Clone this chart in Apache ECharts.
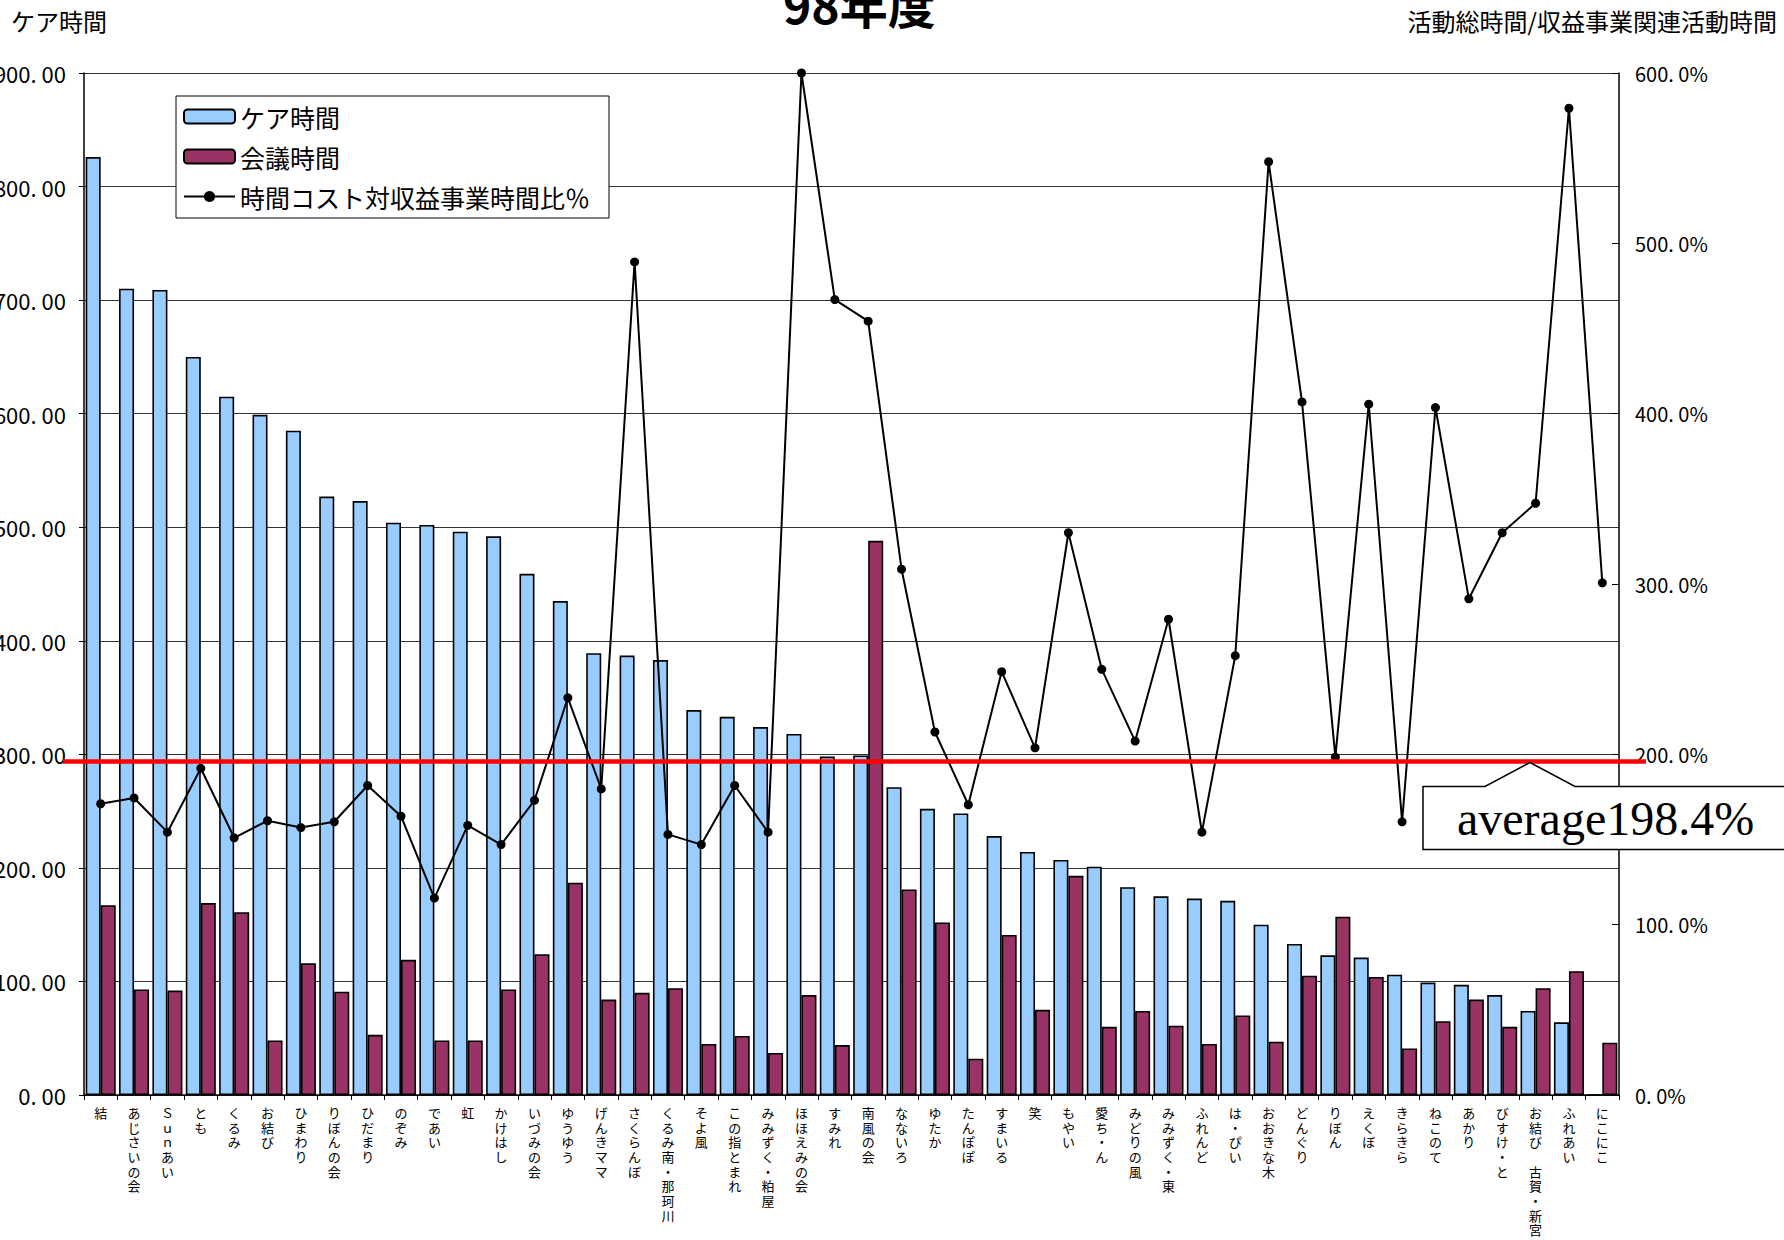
<!DOCTYPE html>
<html>
<head>
<meta charset="utf-8">
<script src="https://cdn.jsdelivr.net/npm/echarts@6/dist/echarts.min.js"></script>
<style>
  html, body { margin: 0; padding: 0; background: #fff; }
  #main { width: 1784px; height: 1240px; }
</style>
</head>
<body>
<div id="main"></div>
<script>
const chartTitle = '98年度';
const leftAxisName = 'ケア時間';
const rightAxisName = '活動総時間/収益事業関連活動時間';
const seriesNames = ['ケア時間', '会議時間', '時間コスト対収益事業時間比％'];

const categories = [
  '結', 'あじさいの会', 'Ｓｕｎあい', 'とも', 'くるみ', 'お結び', 'ひまわり', 'りぼんの会',
  'ひだまり', 'のぞみ', 'であい', '虹', 'かけはし', 'いづみの会', 'ゆうゆう', 'げんきママ',
  'さくらんぼ', 'くるみ南・那珂川', 'そよ風', 'この指とまれ', 'みみずく・粕屋', 'ほほえみの会',
  'すみれ', '南風の会', 'なないろ', 'ゆたか', 'たんぽぽ', 'すまいる', '笑', 'もやい',
  '愛ち・ん', 'みどりの風', 'みみずく・東', 'ふれんど', 'は・ぴい', 'おおきな木', 'どんぐり',
  'りぼん', 'えくぼ', 'きらきら', 'ねこのて', 'あかり', 'びすけ・と', 'お結び 古賀・新宮',
  'ふれあい', 'にこにこ'
];

const careHours = [
  826, 710, 709, 650, 615, 599, 585, 527,
  523, 504, 502, 496, 492, 459, 435, 389,
  387, 383, 339, 333, 324, 318,
  298, 299, 271, 252, 248, 228, 214, 207,
  201, 183, 175, 173, 171, 150, 133,
  123, 121, 106, 99, 97, 88, 74,
  64, 0
];

const meetingHours = [
  167, 93, 92, 169, 161, 48, 116, 91,
  53, 119, 48, 48, 93, 124, 187, 84,
  90, 94, 45, 52, 37, 88,
  44, 488, 181, 152, 32, 141, 75, 193,
  60, 74, 61, 45, 70, 47, 105,
  157, 104, 41, 65, 84, 60, 94,
  109, 46
];

const ratioPct = [
  171.0, 174.4, 154.3, 191.8, 151.0, 161.0, 157.0, 160.4,
  181.7, 163.7, 115.6, 158.3, 147.0, 173.0, 233.2, 179.7,
  489.1, 153.0, 147.0, 181.7, 154.3, 600.0,
  467.0, 454.3, 308.7, 213.1, 170.4, 248.5, 203.8, 330.1,
  249.9, 207.8, 279.3, 154.3, 257.9, 547.9, 406.9,
  198.4, 405.6, 160.4, 403.6, 291.3, 330.1, 347.4,
  579.3, 300.7
];

const averageLinePct = 195.8;
const averageLabel = 'average198.4%';

const leftAxisMin = 0, leftAxisMax = 900, leftAxisStep = 100;
const rightAxisMin = 0, rightAxisMax = 600, rightAxisStep = 100;

const FONT = '"Noto Sans CJK JP", "Noto Sans", sans-serif';

const chart = echarts.init(document.getElementById('main'), null, { renderer: 'svg' });

const option = {
  backgroundColor: '#ffffff',
  animation: false,
  title: [
    { text: chartTitle, left: 783, top: -21, padding: 0,
      textStyle: { fontFamily: FONT, fontSize: 48, fontWeight: 'bold', color: '#000' } },
    { text: leftAxisName, left: 11, top: 8, padding: 0,
      textStyle: { fontFamily: FONT, fontSize: 24, fontWeight: 'normal', color: '#000' } },
    { text: rightAxisName, right: 7, top: 8, padding: 0,
      textStyle: { fontFamily: FONT, fontSize: 24, fontWeight: 'normal', color: '#000' } }
  ],
  legend: {
    orient: 'vertical',
    left: 176, top: 96,
    padding: [8, 19, 9, 7],
    itemWidth: 51, itemHeight: 14,
    itemGap: 15,
    backgroundColor: '#fff',
    borderColor: '#000', borderWidth: 1,
    textStyle: { fontFamily: FONT, fontSize: 25, color: '#000' },
    data: seriesNames
  },
  grid: { left: 84, right: 165, top: 73, bottom: 145, containLabel: false, outerBoundsMode: 'none' },
  xAxis: {
    type: 'category',
    data: categories,
    axisLine: { lineStyle: { color: '#000', width: 1.5 } },
    axisTick: { show: true, alignWithLabel: false, length: 5, lineStyle: { color: '#000' } },
    axisLabel: {
      interval: 0, margin: 10,
      fontFamily: FONT, fontSize: 13, lineHeight: 14.7, color: '#000',
      formatter: v => Array.from(v).join('\n')
    }
  },
  yAxis: [
    {
      type: 'value', min: leftAxisMin, max: leftAxisMax, interval: leftAxisStep,
      position: 'left',
      axisLine: { show: true, lineStyle: { color: '#000', width: 1.5 } },
      axisTick: { show: true, length: 5, lineStyle: { color: '#000' } },
      splitLine: { show: true, lineStyle: { color: '#333', width: 1 } },
      axisLabel: {
        margin: 18, fontFamily: FONT, fontSize: 22, color: '#000',
        formatter: v => v.toFixed(2).replace('.', '. ')
      }
    },
    {
      type: 'value', min: rightAxisMin, max: rightAxisMax, interval: rightAxisStep,
      position: 'right',
      axisLine: { show: true, lineStyle: { color: '#000', width: 1.5 } },
      axisTick: { show: true, inside: true, length: 7, lineStyle: { color: '#000' } },
      splitLine: { show: false },
      axisLabel: {
        margin: 16, fontFamily: FONT, fontSize: 20, color: '#000',
        formatter: v => v.toFixed(1).replace('.', '. ') + '%'
      }
    }
  ],
  series: [
    {
      name: seriesNames[0], type: 'bar', yAxisIndex: 0,
      data: careHours,
      barCategoryGap: '10%', barGap: '0%',
      itemStyle: { color: '#99CCFF', borderColor: '#000', borderWidth: 1.6 },
      z: 2
    },
    {
      name: seriesNames[1], type: 'bar', yAxisIndex: 0,
      data: meetingHours,
      barCategoryGap: '10%', barGap: '0%',
      itemStyle: { color: '#993366', borderColor: '#000', borderWidth: 1.6 },
      z: 2
    },
    {
      name: seriesNames[2], type: 'line', yAxisIndex: 1,
      data: ratioPct,
      symbol: 'circle', symbolSize: 9,
      lineStyle: { color: '#000', width: 2 },
      itemStyle: { color: '#000' },
      z: 5
    }
  ]
};

chart.setOption(option);

const redY = chart.convertToPixel({ yAxisIndex: 1 }, averageLinePct);
chart.setOption({
  graphic: [
    {
      type: 'line', z: 100,
      shape: { x1: 63, y1: redY, x2: 1646, y2: redY },
      style: { stroke: '#FF0000', lineWidth: 4.5 }
    },
    {
      type: 'polygon', z: 101,
      shape: {
        points: [
          [1423, redY + 25], [1485, redY + 25], [1530, redY + 1], [1575, redY + 25],
          [1800, redY + 25], [1800, redY + 88], [1423, redY + 88]
        ]
      },
      style: { fill: '#fff', stroke: '#000', lineWidth: 1.5 }
    },
    {
      type: 'text', z: 102,
      x: 1457, y: redY + 57,
      style: {
        text: averageLabel,
        font: '48px "Liberation Serif", "DejaVu Serif", serif',
        fill: '#000',
        textVerticalAlign: 'middle', verticalAlign: 'middle'
      }
    }
  ]
});
</script>
</body>
</html>
